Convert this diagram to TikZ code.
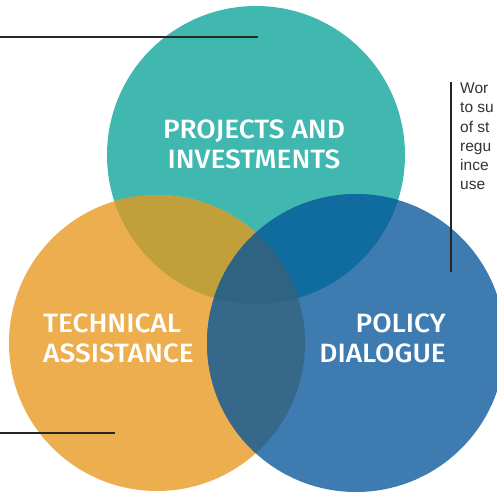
\documentclass[tikz,border=0pt]{standalone}
\usepackage{fontspec}
\setmainfont{Liberation Sans}
\newfontfamily\labelfont{Fira Sans}[UprightFont={* Medium}]
\definecolor{cteal}{HTML}{40B8B0}
\definecolor{corange}{HTML}{ECAE4E}
\definecolor{cblue}{HTML}{3E7BB0}
\definecolor{cto}{HTML}{C1A03C}
\definecolor{ctb}{HTML}{106B9E}
\definecolor{cob}{HTML}{356889}
\definecolor{call}{HTML}{2E6482}
\begin{document}
\begin{tikzpicture}[x=1pt,y=-1pt,
  label/.style={text=white,font=\labelfont\fontsize{26.5}{30}\selectfont,inner sep=0pt,xscale=1.06},
  side/.style={text=black!80,font=\fontsize{15.5}{19}\selectfont,anchor=base west,inner sep=0pt},
  leader/.style={draw=black!85,line width=1.3pt}]
\useasboundingbox (0,0) rectangle (497,492);
\clip (0,0) rectangle (497,492);
% circles
\fill[cteal] (256,155) circle (149);
\fill[corange] (157,343) circle (148);
\fill[cblue] (356,343) circle (149);
\begin{scope}
  \clip (256,155) circle (149);
  \fill[cto] (157,343) circle (148);
  \fill[ctb] (356,343) circle (149);
\end{scope}
\begin{scope}
  \clip (157,343) circle (148);
  \fill[cob] (356,343) circle (149);
  \clip (356,343) circle (149);
  \fill[call] (256,155) circle (149);
\end{scope}
% labels
\node[label,align=center] (pi) at (254,144) {PROJECTS AND\\INVESTMENTS};
\node[label,align=left,anchor=west] (ta) at (43,338) {TECHNICAL\\ASSISTANCE};
\node[label,align=right,anchor=east] (pd) at (446,338) {POLICY\\DIALOGUE};
% side text
\node[side] (t1) at (460,94) {Wor};
\node[side] (t2) at (460,113) {to su};
\node[side] (t3) at (460,132) {of st};
\node[side] (t4) at (460,151) {regu};
\node[side] (t5) at (460,170) {ince};
\node[side] (t6) at (460,189) {use};
% leader lines
\coordinate (a1) at (0,37); \coordinate (a2) at (258,37);
\coordinate (b1) at (451,82); \coordinate (b2) at (451,272);
\coordinate (c1) at (0,433); \coordinate (c2) at (115,433);
\draw[leader] (a1) -- (a2);
\draw[leader] (b1) -- (b2);
\draw[leader] (c1) -- (c2);
\end{tikzpicture}
\end{document}
